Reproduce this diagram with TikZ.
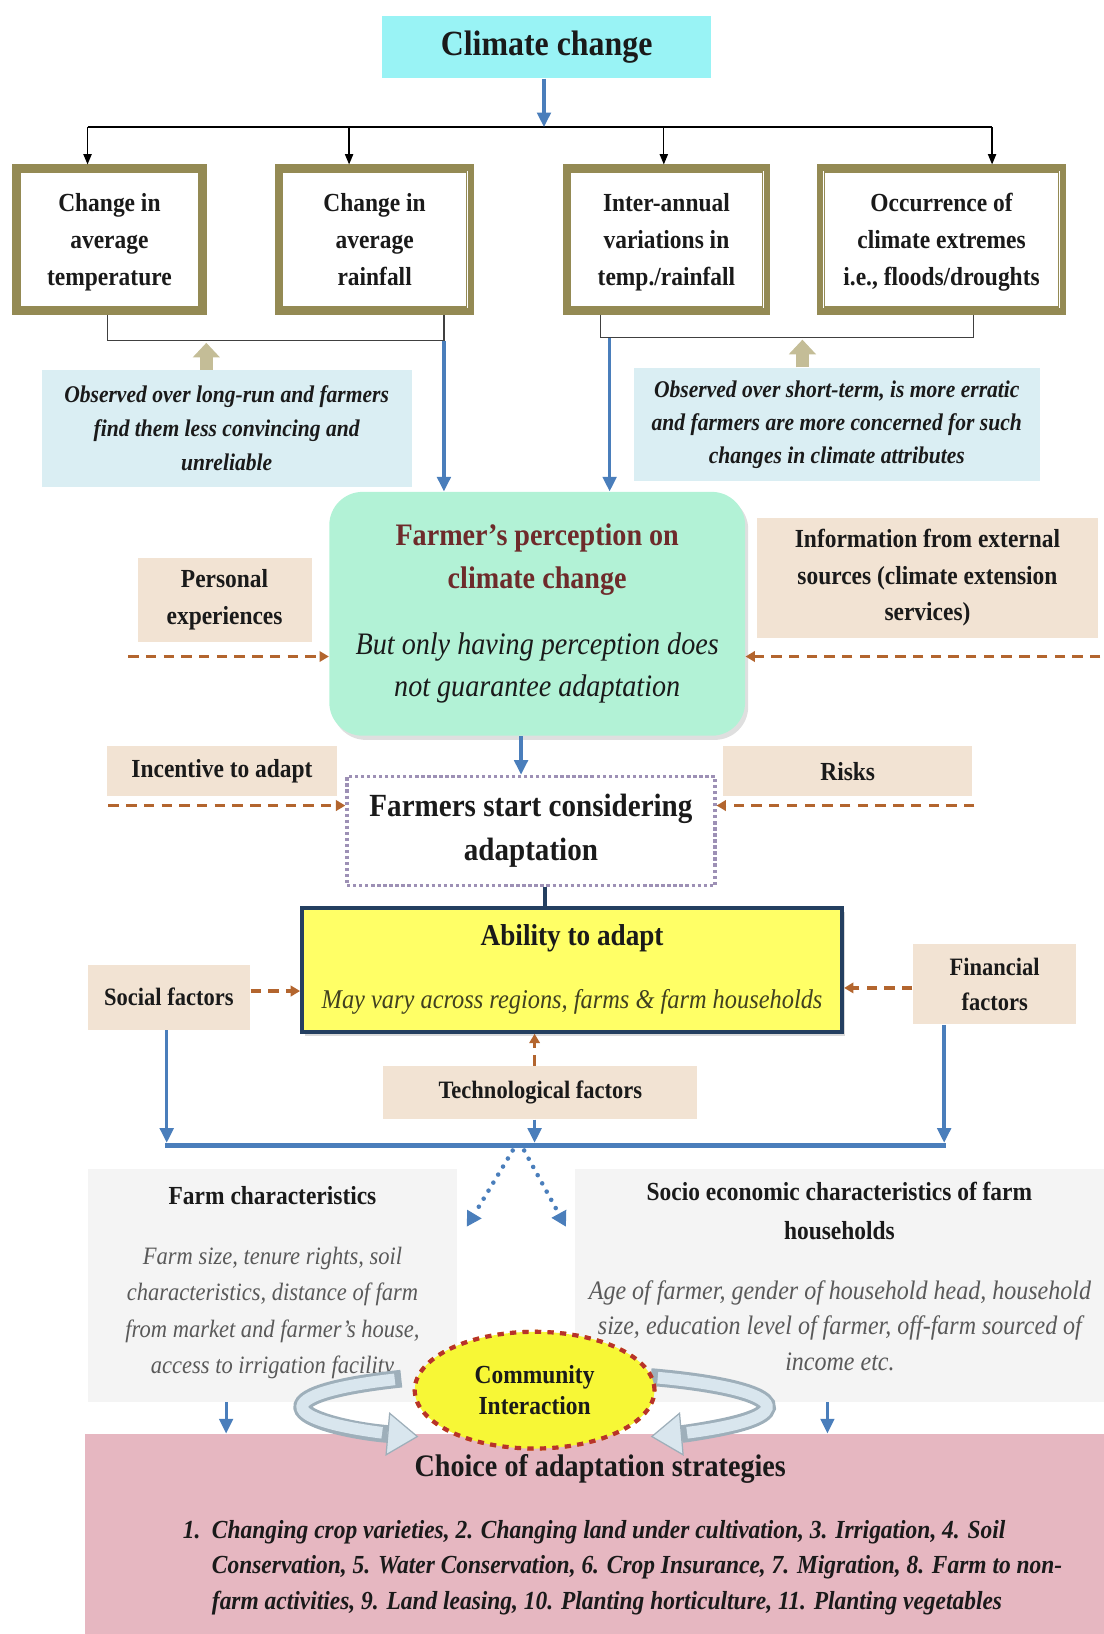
\documentclass[tikz,border=0pt]{standalone}
\usepackage[usenames,dvipsnames]{xcolor}
\usepackage{tikz}
\usepackage{fontspec}
\setmainfont{Liberation Serif}[FakeStretch=0.9]
\usetikzlibrary{arrows.meta,shapes.geometric,shadows,calc,positioning}

\definecolor{climcyan}{HTML}{99F3F5}
\definecolor{arrblue}{HTML}{4A7EBB}
\definecolor{frameolive}{HTML}{948A54}
\definecolor{noteblue}{HTML}{DAEEF3}
\definecolor{tanarrow}{HTML}{C4BD97}
\definecolor{percmint}{HTML}{B2F2D6}
\definecolor{percmaroon}{HTML}{6E2B2B}
\definecolor{facttan}{HTML}{F2E3D3}
\definecolor{dashbrown}{HTML}{B3652E}
\definecolor{consgray}{HTML}{9D90B5}
\definecolor{abilyellow}{HTML}{FFFF66}
\definecolor{abilnavy}{HTML}{243F60}
\definecolor{abiltext}{HTML}{404020}
\definecolor{panelgray}{HTML}{F4F4F4}
\definecolor{italgray}{HTML}{595959}
\definecolor{pinkbg}{HTML}{E6B7C1}
\definecolor{ellyellow}{HTML}{F7F736}
\definecolor{ellred}{HTML}{B8322A}
\definecolor{ellorange}{HTML}{E3B23C}
\definecolor{ringdark}{HTML}{9EAFBA}
\definecolor{ringlight}{HTML}{D9E6EE}
\definecolor{textdark}{HTML}{1A1A1A}

\newcommand{\fs}[2]{\fontsize{#1}{#2}\selectfont}
\newcommand{\framelines}[1]{\raisebox{-0.5pt}[\height][\depth]{\begin{tabular}{@{}c@{}}#1\end{tabular}}}

\begin{document}
\begin{tikzpicture}[x=0.5pt,y=-0.5pt,
    box/.style={inner sep=0pt, align=center, text=textdark},
    framebox/.style={box, fill=white, draw=frameolive, line width=3.2pt,
      minimum height=69pt, font=\fs{12.5}{17.75}\bfseries},
    notebox/.style={box, fill=noteblue, font=\fs{11.5}{16.25}\bfseries\itshape},
    factbox/.style={box, fill=facttan, font=\fs{12.5}{17.5}\bfseries},
    panel/.style={box, fill=panelgray},
    bluearr/.style={draw=arrblue, line width=1.6pt, -{Triangle[length=7pt,width=6.5pt]}},
    blkarr/.style={draw=black, line width=0.6pt, -{Triangle[length=5pt,width=4pt]}},
    dasharr/.style={draw=dashbrown, line width=1.6pt, dash pattern=on 5pt off 3.5pt,
      -{Triangle[length=4.5pt,width=5pt]}},
    dotarr/.style={draw=arrblue, line width=2.2pt, dash pattern=on 0pt off 4.5pt,
      line cap=round, -{Triangle[length=7pt,width=8pt,line width=0.5pt]}},
    tanarr/.style={draw=tanarrow, line width=6.4pt,
      -{Triangle[length=7pt,width=13pt,line width=0.5pt]}},
    ringarr/.style={draw=ringdark, line width=8.5pt,
      -{Triangle[length=15pt,width=21pt,line width=0.6pt,fill=ringlight]}},
    ringin/.style={draw=ringlight, line width=5.6pt},
    commell/.style={ellipse, box, fill=ellyellow, draw=ellred, dashed, line width=2pt,
      minimum width=115pt, minimum height=56pt, font=\fs{12.5}{15}\bfseries,
      preaction={draw=ellorange, line width=2pt}}
  ]
  \useasboundingbox (0,0) rectangle (1059,1568);

  % top
  \node[box, fill=climcyan, minimum width=157.5pt, minimum height=30pt,
    font=\fs{17}{20}\bfseries] (clim) at (524.5,45) {Climate change};
  \coordinate (hub) at (522,122);
  \draw[black, line width=0.7pt] (84,122) coordinate (hubL) -- (952,122) coordinate (hubR);
  \draw[bluearr] (clim.south -| hub) -- (hub);

  \node[framebox, minimum width=90pt] (b1) at (105,230) {\framelines{Change in\\average\\temperature}};
  \node[framebox, minimum width=92.5pt] (b2) at (359.5,230) {\framelines{Change in\\average\\rainfall}};
  \node[framebox, minimum width=96.5pt] (b3) at (639.5,230) {\framelines{Inter-annual\\variations in\\temp./rainfall}};
  \node[framebox, minimum width=116.5pt] (b4) at (903.5,230) {\framelines{Occurrence of\\climate extremes\\i.e., floods/droughts}};
  \foreach \b in {b1,b2,b3,b4}
    \draw[frameolive, line width=0.8pt] ([shift={(3.7pt,3.7pt)}]\b.south west)
      rectangle ([shift={(-3.7pt,-3.7pt)}]\b.north east);
  \foreach \x/\b in {84/b1,335/b2,637/b3,952/b4}
    \draw[blkarr] (\x,122) -- (\x,122 |- \b.north);

  % brackets below the four boxes
  \coordinate (brL) at (426,327);
  \coordinate (brR) at (585,324);
  \draw[black!75, line width=0.7pt] (b1.south -| 103,0) -- (103,327) -- (brL) -- (b2.south -| brL);
  \draw[black!75, line width=0.7pt] (b3.south -| 576,0) -- (576,324) -- (934,324) -- (b4.south -| 934,0);

  \node[notebox, minimum width=177.5pt, minimum height=56pt] (noteL) at (217.5,411)
    {Observed over long-run and farmers\\find them less convincing and\\unreliable};
  \node[notebox, minimum width=195pt, minimum height=54.5pt, font=\fs{11.5}{15.75}\bfseries\itshape] (noteR) at (803,407.5)
    {Observed over short-term, is more erratic\\and farmers are more concerned for such\\changes in climate attributes};
  \draw[tanarr] (noteL.north -| 198,0) -- (198,329);
  \draw[tanarr] (noteR.north -| 770,0) -- (770,326);

  % perception
  \node[box, fill=percmint, rounded corners=16pt, minimum width=199.5pt, minimum height=117pt,
    drop shadow={opacity=0.25,shadow xshift=1.5pt,shadow yshift=-2pt},
    font=\fs{15}{20.5}] (perc) at (515.5,589)
    {\textbf{\color{percmaroon}Farmer’s perception on}\\\textbf{\color{percmaroon}climate change}\\[11pt]
     \textit{But only having perception does}\\\textit{not guarantee adaptation}};
  \draw[bluearr] (brL) -- (brL |- perc.north);
  \draw[bluearr] (brR) -- (brR |- perc.north);

  \node[factbox, minimum width=83.5pt, minimum height=40.5pt, font=\fs{12.5}{18}\bfseries] (pers) at (215.5,575.5) {Personal\\experiences};
  \node[factbox, minimum width=164pt, minimum height=57.5pt] (info) at (890,554.5)
    {Information from external\\sources (climate extension\\services)};
  \coordinate (persD) at (123,630);
  \coordinate (infoD) at (1056,630);
  \draw[dasharr] (persD) -- (persD -| perc.west);
  \draw[dasharr] (infoD) -- (infoD -| perc.east);

  % considering
  \node[box, draw=consgray, line width=1.6pt, dash pattern=on 1.6pt off 1.3pt,
    minimum width=176.5pt, minimum height=52.5pt, font=\fs{15.5}{21}\bfseries] (cons) at (509.5,797.5)
    {Farmers start considering\\adaptation};
  \draw[bluearr] (perc.south -| 500,0) -- (cons.north -| 500,0);
  \node[factbox, minimum width=110pt, minimum height=24pt] (inc) at (213,740) {Incentive to adapt};
  \node[factbox, minimum width=119.5pt, minimum height=24pt] (risk) at (813.5,740) {Risks};
  \coordinate (incD) at (104,773);
  \coordinate (riskD) at (935,773);
  \draw[dasharr] (incD) -- (incD -| cons.west);
  \draw[dasharr] (riskD) -- (riskD -| cons.east);

  % ability
  \node[box, fill=abilyellow, draw=abilnavy, line width=2pt, minimum width=259pt, minimum height=59.5pt,
    drop shadow={opacity=0.3,shadow xshift=1.5pt,shadow yshift=-2pt},
    font=\fs{14.5}{30}] (abil) at (549,930.5)
    {{\bfseries Ability to adapt}\\{\color{abiltext}\itshape\fs{13}{30}May vary across regions, farms \& farm households}};
  \draw[abilnavy, line width=1.5pt] (cons.south -| 523,0) -- (abil.north -| 523,0);

  \node[factbox, minimum width=78pt, minimum height=31pt, font=\fs{12}{16}\bfseries] (social) at (162,957) {Social factors};
  \node[factbox, minimum width=78.5pt, minimum height=38.5pt, font=\fs{12}{16.5}\bfseries] (fin) at (954.5,944.5) {Financial\\factors};
  \node[factbox, minimum width=150.5pt, minimum height=25.5pt, font=\fs{12}{16}\bfseries] (tech) at (518.5,1048.5) {Technological factors};
  \draw[dasharr] (social.east |- 0,951) -- (abil.west |- 0,951);
  \draw[dasharr] (fin.west |- 0,948) -- (abil.east |- 0,948);
  \draw[dasharr] (tech.north -| 513,0) -- (abil.south -| 513,0);

  % blue bar
  \coordinate (barL) at (160,1099);
  \coordinate (barR) at (906,1099);
  \coordinate (barM) at (513,1099);
  \draw[arrblue, line width=2.6pt] ([xshift=-0.8pt]barL) -- ([xshift=0.8pt]barR);
  \draw[bluearr, shorten >=1.2pt] (social.south -| barL) -- (barL);
  \draw[bluearr, shorten >=1.2pt] (fin.south -| barR) -- (barR);
  \draw[bluearr, shorten >=1.2pt] (tech.south -| barM) -- (barM);

  % characteristics
  \node[panel, minimum width=177.5pt, minimum height=111.5pt] (farmP) at (261.5,1233.5) {};
  \node[panel, minimum width=253.5pt, minimum height=111.5pt] (socP) at (805.5,1233.5) {};
  \coordinate (splitL) at (492,1104);
  \coordinate (splitR) at (503,1104);
  \coordinate (dotL) at (448,1177);
  \coordinate (dotR) at (543,1177);
  \draw[dotarr] (splitL) -- (dotL);
  \draw[dotarr] (splitR) -- (dotR);

  \node[box, font=\fs{12.5}{18}\bfseries] (farmT) at (261.5,1147) {Farm characteristics};
  \node[box, text=italgray, font=\fs{12}{17.5}\itshape] (farmB) at (261.5,1260)
    {Farm size, tenure rights, soil\\characteristics, distance of farm\\from market and farmer’s house,\\access to irrigation facility};
  \node[box, font=\fs{12.5}{18.5}\bfseries] (socT) at (805.5,1162)
    {Socio economic characteristics of farm\\households};
  \node[box, text=italgray, font=\fs{12.8}{17}\itshape] (socB) at (806,1272)
    {Age of farmer, gender of household head, household\\size, education level of farmer, off-farm sourced of\\income etc.};

  % choice
  \node[box, fill=pinkbg, minimum width=488.5pt, minimum height=96pt] (choice) at (570.5,1472) {};
  \draw[bluearr, line width=1.4pt] (farmP.south -| 217,0) -- (choice.north -| 217,0);
  \draw[bluearr, line width=1.4pt] (socP.south -| 794,0) -- (choice.north -| 794,0);
  \node[box, font=\fs{15}{18}\bfseries] (choiceT) at (576,1410) {Choice of adaptation strategies};
  \node[box, align=left, anchor=west, font=\fs{12.5}{17}\bfseries\itshape] (choiceL) at (175,1504)
    {\makebox[14pt][l]{1.}Changing crop varieties, 2. Changing land under cultivation, 3. Irrigation, 4. Soil\\
     \hspace*{14pt}Conservation, 5. Water Conservation, 6. Crop Insurance, 7. Migration, 8. Farm to non-\\
     \hspace*{14pt}farm activities, 9. Land leasing, 10. Planting horticulture, 11. Planting vegetables};

  % community ring
  \coordinate (ring) at (513,1350);
  \draw[ringarr] ($(ring)+(235:223 and 33)$) arc[start angle=235,end angle=120,x radius=223,y radius=33];
  \draw[ringin] ($(ring)+(233:223 and 33)$) arc[start angle=233,end angle=131,x radius=223,y radius=33];
  \draw[ringarr] ($(ring)+(300:223 and 33)$) arc[start angle=300,end angle=420,x radius=223,y radius=33];
  \draw[ringin] ($(ring)+(302:223 and 33)$) arc[start angle=302,end angle=409,x radius=223,y radius=33];
  \node[commell] (comm) at (513,1334) {Community\\Interaction};
\end{tikzpicture}
\end{document}
